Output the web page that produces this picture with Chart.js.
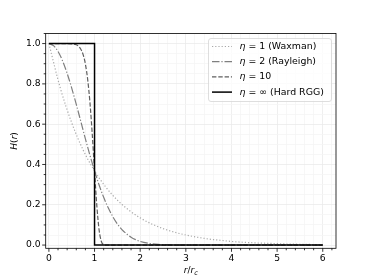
<!DOCTYPE html>
<html>
<head>
<meta charset="utf-8">
<script src="https://cdn.jsdelivr.net/npm/chart.js@4.4.1/dist/chart.umd.min.js"></script>
<style>
html,body{margin:0;padding:0;background:#fff;}
#wrap{width:374px;height:280px;}
</style>
</head>
<body>
<div id="wrap"><canvas id="c" width="374" height="280"></canvas></div>
<script>
// ---- data ----
const seriesLabels = ["η = 1 (Waxman)", "η = 2 (Rayleigh)", "η = 10", "η = ∞ (Hard RGG)"];

const waxmanX = [0,0.25,0.5,0.75,1,1.25,1.5,1.75,2,2.25,2.5,2.75,3,3.25,3.5,3.75,4,4.25,4.5,4.75,5,5.25,5.5,5.75,6];
const waxmanY = [1,0.779,0.607,0.472,0.368,0.287,0.223,0.174,0.135,0.105,0.082,0.064,0.050,0.039,0.030,0.024,0.018,0.014,0.011,0.009,0.007,0.005,0.004,0.003,0.002];

const rayleighX = [0,0.1,0.2,0.3,0.4,0.5,0.6,0.7,0.8,0.9,1.0,1.1,1.2,1.3,1.4,1.5,1.6,1.7,1.8,1.9,2.0,2.2,2.4,2.6,3,6];
const rayleighY = [1,0.990,0.961,0.914,0.852,0.779,0.698,0.613,0.527,0.445,0.368,0.298,0.237,0.185,0.141,0.105,0.077,0.056,0.039,0.027,0.018,0.008,0.003,0.001,0,0];

const eta10X = [0,0.5,0.6,0.65,0.7,0.75,0.8,0.85,0.9,0.95,1.0,1.05,1.1,1.15,1.2,1.25,1.3,6];
const eta10Y = [1,0.999,0.994,0.987,0.972,0.945,0.898,0.821,0.706,0.550,0.368,0.196,0.075,0.018,0.002,0,0,0];

const hardX = [0,1,1,6];
const hardY = [1,1,0,0];

const xTickLabels = [0,1,2,3,4,5,6];
const yTickLabels = [0.0,0.2,0.4,0.6,0.8,1.0];

// ---- chart ----
const FONT = "'DejaVu Sans', sans-serif";
const toPts = (xs, ys) => xs.map((x, i) => ({x: x, y: ys[i]}));
const isInt = v => Math.abs(v - Math.round(v)) < 1e-6;
const isMajorY = v => Math.abs(v / 0.2 - Math.round(v / 0.2)) < 1e-6;

const styles = [
  {color:'#a9a9a9', width:1.2, dash:[1.2,2.0]},
  {color:'#7f7f7f', width:1.2, dash:[7.5,1.9,1.2,1.9]},
  {color:'#5f5f5f', width:1.2, dash:[4.4,1.9]},
  {color:'#000000', width:1.5, dash:[]}
];
const allX = [waxmanX, rayleighX, eta10X, hardX];
const allY = [waxmanY, rayleighY, eta10Y, hardY];

const datasets = seriesLabels.map((lab, i) => ({
  label: lab,
  data: toPts(allX[i], allY[i]),
  showLine: true,
  borderColor: styles[i].color,
  borderWidth: styles[i].width,
  borderDash: styles[i].dash,
  pointRadius: 0,
  tension: 0,
  cubicInterpolationMode: i < 3 ? 'monotone' : 'default',
  fill: false,
  order: 3 - i
}));

const decor = {
  id: 'decor',
  afterDatasetsDraw(chart) {
    const ctx = chart.ctx;
    const a = chart.chartArea;
    const xs = chart.scales.x, ys = chart.scales.y;
    ctx.save();
    // spines
    ctx.strokeStyle = '#000';
    ctx.lineWidth = 0.8;
    ctx.setLineDash([]);
    ctx.strokeRect(a.left, a.top, a.right - a.left, a.bottom - a.top);
    // ticks
    xs.ticks.forEach(t => {
      const p = xs.getPixelForValue(t.value);
      const len = isInt(t.value) ? 3.5 : 2;
      ctx.beginPath(); ctx.moveTo(p, a.bottom); ctx.lineTo(p, a.bottom + len); ctx.stroke();
    });
    ys.ticks.forEach(t => {
      const p = ys.getPixelForValue(t.value);
      const len = isMajorY(t.value) ? 3.5 : 2;
      ctx.beginPath(); ctx.moveTo(a.left, p); ctx.lineTo(a.left - len, p); ctx.stroke();
    });
    // axis titles
    ctx.fillStyle = '#000';
    ctx.textBaseline = 'alphabetic';
    const cx = (a.left + a.right) / 2;
    const ty = 273;
    const it = 'italic 9px ' + FONT, nm = '9px ' + FONT, sm = 'italic 6.5px ' + FONT;
    const parts = [['r', it, 0], ['/', nm, 0], ['r', it, 0], ['c', sm, 2]];
    let w = 0;
    parts.forEach(p => { ctx.font = p[1]; w += ctx.measureText(p[0]).width; });
    let x0 = cx - w / 2;
    ctx.textAlign = 'left';
    parts.forEach(p => { ctx.font = p[1]; ctx.fillText(p[0], x0, ty + p[2]); x0 += ctx.measureText(p[0]).width; });
    ctx.save();
    ctx.translate(17, (a.top + a.bottom) / 2);
    ctx.rotate(-Math.PI / 2);
    const yparts = [['H', it], ['(', nm], ['r', it], [')', nm]];
    w = 0;
    yparts.forEach(p => { ctx.font = p[1]; w += ctx.measureText(p[0]).width; });
    x0 = -w / 2;
    yparts.forEach(p => { ctx.font = p[1]; ctx.fillText(p[0], x0, 0); x0 += ctx.measureText(p[0]).width; });
    ctx.restore();
    // legend
    const lx = 208.5, ly = 38.5, lw = 123, lh = 63, r = 2.5;
    ctx.beginPath();
    ctx.moveTo(lx + r, ly);
    ctx.arcTo(lx + lw, ly, lx + lw, ly + lh, r);
    ctx.arcTo(lx + lw, ly + lh, lx, ly + lh, r);
    ctx.arcTo(lx, ly + lh, lx, ly, r);
    ctx.arcTo(lx, ly, lx + lw, ly, r);
    ctx.closePath();
    ctx.fillStyle = 'rgba(255,255,255,0.8)';
    ctx.fill();
    ctx.strokeStyle = '#d6d6d6';
    ctx.lineWidth = 0.8;
    ctx.stroke();
    const lit = 'italic 9.4px ' + FONT, lnm = '9.4px ' + FONT;
    chart.data.datasets.forEach((ds, i) => {
      const yy = 46.5 + i * 15.2;
      ctx.strokeStyle = ds.borderColor;
      ctx.lineWidth = ds.borderWidth;
      ctx.setLineDash(ds.borderDash);
      ctx.beginPath(); ctx.moveTo(212, yy); ctx.lineTo(232, yy); ctx.stroke();
      ctx.setLineDash([]);
      ctx.fillStyle = '#000';
      ctx.textBaseline = 'middle';
      const label = ds.label;
      let tx = 239.5;
      ctx.font = lit;
      ctx.fillText(label[0], tx, yy);
      tx += ctx.measureText(label[0]).width;
      ctx.font = lnm;
      ctx.fillText(label.slice(1), tx, yy);
    });
    ctx.restore();
  }
};

new Chart(document.getElementById('c'), {
  type: 'scatter',
  data: { datasets: datasets },
  options: {
    responsive: false,
    animation: false,
    devicePixelRatio: 1,
    layout: { padding: { left: 0, right: 38, top: 33.5, bottom: 0 } },
    plugins: { legend: { display: false }, tooltip: { enabled: false } },
    scales: {
      x: {
        type: 'linear',
        min: -0.07, max: 6.29,
        afterFit(s) { s.height = 31.7; },
        border: { display: false },
        grid: {
          drawTicks: false,
          color: c => (c.tick && isInt(c.tick.value)) ? '#ebebeb' : '#f5f5f5',
          lineWidth: 0.8
        },
        ticks: {
          stepSize: 0.2,
          includeBounds: false,
          autoSkip: false,
          maxRotation: 0,
          padding: 5,
          color: '#000',
          font: { family: FONT, size: 9.2 },
          callback: v => isInt(v) && xTickLabels.includes(Math.round(v)) ? String(Math.round(v)) : ''
        }
      },
      y: {
        type: 'linear',
        min: -0.016, max: 1.05,
        afterFit(s) { s.width = 45.7; },
        border: { display: false },
        grid: {
          drawTicks: false,
          color: c => (c.tick && isMajorY(c.tick.value)) ? '#ebebeb' : '#f5f5f5',
          lineWidth: 0.8
        },
        ticks: {
          stepSize: 0.05,
          includeBounds: false,
          autoSkip: false,
          padding: 5,
          color: '#000',
          font: { family: FONT, size: 9.2 },
          callback: v => {
            if (!isMajorY(v)) return '';
            const r = Math.round(v * 10) / 10;
            return yTickLabels.includes(r) ? r.toFixed(1) : '';
          }
        }
      }
    }
  },
  plugins: [decor]
});
</script>
</body>
</html>
